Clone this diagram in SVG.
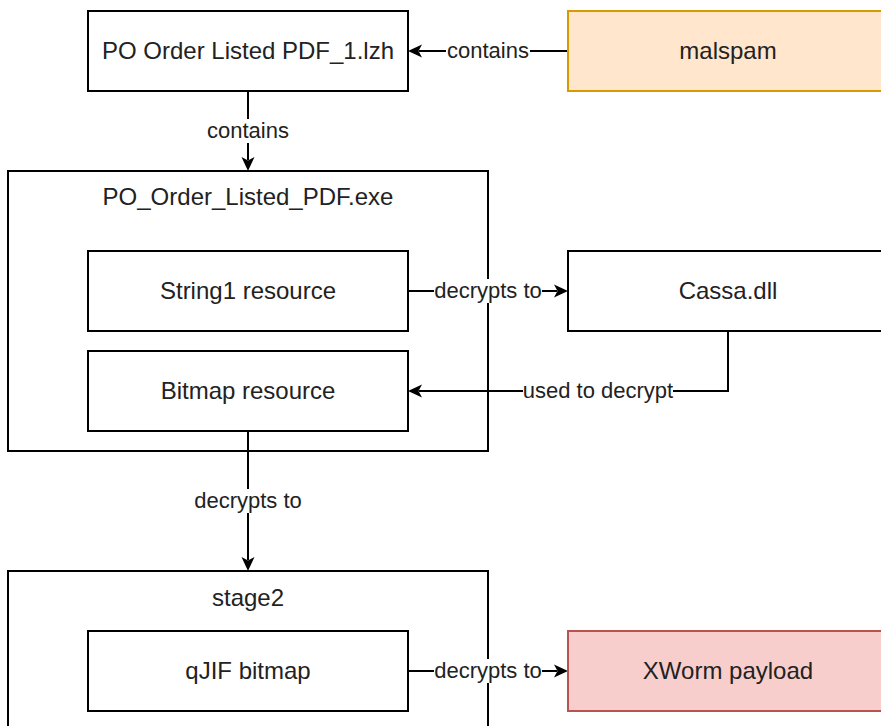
<svg xmlns="http://www.w3.org/2000/svg" width="881" height="726" viewBox="0 0 881 726">
<style>
.box{fill:#ffffff;stroke:#000000;stroke-width:2}
.cont{fill:none;stroke:#000000;stroke-width:2}
.t{font-family:"Liberation Sans",Arial,Helvetica,sans-serif;font-size:24px;fill:#222222;text-anchor:middle}
.lbl{font-family:"Liberation Sans",Arial,Helvetica,sans-serif;font-size:22px;fill:#222222;text-anchor:middle}
.edge{fill:none;stroke:#000000;stroke-width:2;marker-end:url(#arr)}
.lblbg{fill:#ffffff}
</style>
<defs>
<marker id="arr" viewBox="0 0 15 14" refX="3" refY="7" markerWidth="15" markerHeight="14" markerUnits="userSpaceOnUse" orient="auto">
<path d="M14,7 L0,0.5 L3.5,7 L0,13.5 Z" fill="#000000"/>
</marker>
</defs>
<rect width="881" height="726" fill="#ffffff"/>

<g id="container-exe">
<rect class="cont" x="8" y="171" width="480" height="280"/>
<text class="t" x="248" y="205">PO_Order_Listed_PDF.exe</text>
</g>
<g id="container-stage2">
<rect class="cont" x="8" y="571" width="480" height="200"/>
<text class="t" x="248" y="606">stage2</text>
</g>

<g id="connectors">
<path class="edge" d="M568,51 L419,51"/>
<path class="edge" d="M248,91 L248,160"/>
<path class="edge" d="M408,291 L557,291"/>
<path class="edge" d="M728,331 L728,391 L419,391"/>
<path class="edge" d="M248,431 L248,560"/>
<path class="edge" d="M408,671 L557,671"/>
<rect class="lblbg" x="446" y="39" width="84" height="24"/>
<text class="lbl" x="488" y="58">contains</text>
<rect class="lblbg" x="206" y="119" width="84" height="24"/>
<text class="lbl" x="248" y="138">contains</text>
<rect class="lblbg" x="434" y="279" width="108" height="24"/>
<text class="lbl" x="488" y="298">decrypts to</text>
<rect class="lblbg" x="523" y="379" width="150" height="24"/>
<text class="lbl" x="598" y="398">used to decrypt</text>
<rect class="lblbg" x="194" y="489" width="108" height="24"/>
<text class="lbl" x="248" y="508">decrypts to</text>
<rect class="lblbg" x="434" y="659" width="108" height="24"/>
<text class="lbl" x="488" y="678">decrypts to</text>
</g>

<g id="node-lzh">
<rect class="box" x="88" y="11" width="320" height="80"/>
<text class="t" x="248" y="59">PO Order Listed PDF_1.lzh</text>
</g>
<g id="node-malspam">
<rect x="568" y="11" width="320" height="80" fill="#ffe6cc" stroke="#d79b00" stroke-width="2"/>
<text class="t" x="728" y="59">malspam</text>
</g>
<g id="node-string1">
<rect class="box" x="88" y="251" width="320" height="80"/>
<text class="t" x="248" y="299">String1 resource</text>
</g>
<g id="node-bitmap">
<rect class="box" x="88" y="351" width="320" height="80"/>
<text class="t" x="248" y="399">Bitmap resource</text>
</g>
<g id="node-cassa">
<rect class="box" x="568" y="251" width="320" height="80"/>
<text class="t" x="728" y="299">Cassa.dll</text>
</g>
<g id="node-qjif">
<rect class="box" x="88" y="631" width="320" height="80"/>
<text class="t" x="248" y="679">qJIF bitmap</text>
</g>
<g id="node-xworm">
<rect x="568" y="631" width="320" height="80" fill="#f8cecc" stroke="#b85450" stroke-width="2"/>
<text class="t" x="728" y="679">XWorm payload</text>
</g>
</svg>
